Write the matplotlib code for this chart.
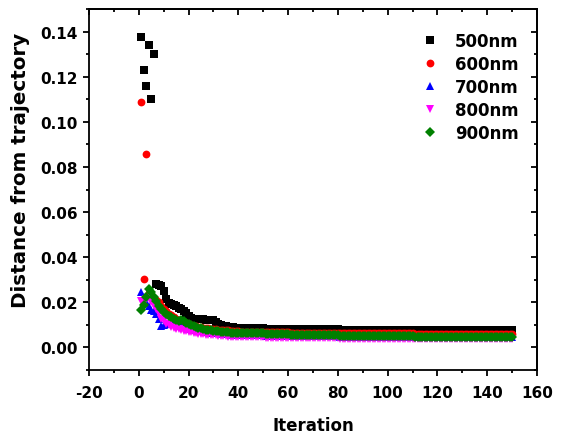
import matplotlib
matplotlib.use("Agg")
import matplotlib.pyplot as plt
from matplotlib.ticker import MultipleLocator, FormatStrFormatter
import numpy as np

plt.rcParams['font.family'] = ['DejaVu Sans']
plt.rcParams['axes.unicode_minus'] = False

labels = ["500nm", "600nm", "700nm", "800nm", "900nm"]

d500 = ([0.1378, 0.1231, 0.1160, 0.1342, 0.1100, 0.1302, 0.0280, 0.0276, 0.0272, 0.0250,
         0.0215, 0.0198, 0.0192, 0.0188, 0.0182, 0.0176, 0.0170, 0.0162, 0.0152, 0.0140,
         0.0130, 0.0126, 0.0125, 0.0125, 0.0124, 0.0124, 0.0123, 0.0123, 0.0122, 0.0120,
         0.0112, 0.0105, 0.0100, 0.0097, 0.0094, 0.0092, 0.0090, 0.0089, 0.0088, 0.0087]
        + [0.0086] * 10 + [0.0083] * 10 + [0.0080] * 20 + [0.0077] * 30 + [0.0075] * 40)

d600 = ([0.1089, 0.0302, 0.0858, 0.0240, 0.0230, 0.0220, 0.0210, 0.0200, 0.0185, 0.0170,
         0.0160, 0.0150, 0.0142, 0.0135, 0.0128, 0.0122, 0.0117, 0.0112, 0.0108, 0.0104,
         0.0100, 0.0097, 0.0094, 0.0092, 0.0090, 0.0088, 0.0086, 0.0084, 0.0082, 0.0081,
         0.0080, 0.0079, 0.0078, 0.0077, 0.0076, 0.0075, 0.0074, 0.0073, 0.0072, 0.0071]
        + [0.0070] * 10 + [0.0068] * 10 + [0.0066] * 20 + [0.0063] * 30 + [0.0061] * 40)

d700 = ([0.0247, 0.0225, 0.0200, 0.0185, 0.0168, 0.0160, 0.0150, 0.0125, 0.0095, 0.0100,
         0.0105, 0.0110, 0.0112, 0.0108, 0.0104, 0.0100, 0.0096, 0.0092, 0.0089, 0.0086,
         0.0083, 0.0080, 0.0078, 0.0076, 0.0074, 0.0072, 0.0070, 0.0068, 0.0066, 0.0065,
         0.0064, 0.0063, 0.0062, 0.0061, 0.0060, 0.0059, 0.0058, 0.0057, 0.0056, 0.0055]
        + [0.0054] * 10 + [0.0052] * 10 + [0.0050] * 20 + [0.0047] * 30 + [0.0045] * 40)

d800 = ([0.0205, 0.0195, 0.0215, 0.0220, 0.0200, 0.0185, 0.0170, 0.0150, 0.0125, 0.0115,
         0.0105, 0.0098, 0.0092, 0.0087, 0.0083, 0.0080, 0.0077, 0.0074, 0.0071, 0.0069,
         0.0067, 0.0065, 0.0063, 0.0061, 0.0060, 0.0058, 0.0057, 0.0056, 0.0055, 0.0054,
         0.0053, 0.0052, 0.0051, 0.0050, 0.0049, 0.0048, 0.0047, 0.0046, 0.0046, 0.0045]
        + [0.0044] * 10 + [0.0042] * 10 + [0.0040] * 20 + [0.0038] * 30 + [0.0036] * 40)

d900 = ([0.0168, 0.0190, 0.0225, 0.0260, 0.0245, 0.0225, 0.0205, 0.0185, 0.0170, 0.0158,
         0.0148, 0.0140, 0.0135, 0.0128, 0.0122, 0.0118, 0.0122, 0.0115, 0.0108, 0.0102,
         0.0098, 0.0094, 0.0090, 0.0087, 0.0084, 0.0081, 0.0079, 0.0077, 0.0075, 0.0073,
         0.0072, 0.0071, 0.0070, 0.0069, 0.0068, 0.0067, 0.0066, 0.0065, 0.0064, 0.0063]
        + [0.0062] * 10 + [0.0058] * 10 + [0.0054] * 20 + [0.0049] * 30 + [0.0045] * 40)

series = [d500, d600, d700, d800, d900]
markers = ['s', 'o', '^', 'v', 'D']
sizes = [5.4, 5.6, 6.2, 6.2, 4.8]
colors = ['black', 'red', 'blue', 'magenta', 'green']

fig = plt.figure(figsize=(5.61, 4.39), dpi=100)
ax = fig.add_axes([0.1586, 0.155, 0.7986, 0.822])

for lab, d, m, s, c in zip(labels, series, markers, sizes, colors):
    x = np.arange(1, len(d) + 1)
    ax.plot(x, d, linestyle='none', marker=m, markersize=s, color=c,
            markeredgewidth=0, label=lab)

ax.set_xlim(-20, 160)
ax.set_ylim(-0.01, 0.15)
ax.xaxis.set_major_locator(MultipleLocator(20))
ax.xaxis.set_minor_locator(MultipleLocator(10))
ax.yaxis.set_major_locator(MultipleLocator(0.02))
ax.yaxis.set_minor_locator(MultipleLocator(0.01))
ax.yaxis.set_major_formatter(FormatStrFormatter('%.2f'))

for sp in ax.spines.values():
    sp.set_linewidth(1.3)

ax.tick_params(which='major', direction='out', length=4.5, width=1.3,
               labelsize=11, top=False, right=False)
ax.tick_params(axis='x', which='major', pad=6)
ax.tick_params(which='minor', direction='out', length=2.5, width=1.3,
               top=False, right=False)
for lab in ax.get_xticklabels() + ax.get_yticklabels():
    lab.set_fontweight('bold')

secx = ax.secondary_xaxis('top')
secx.xaxis.set_major_locator(MultipleLocator(20))
secx.xaxis.set_minor_locator(MultipleLocator(10))
secx.tick_params(which='major', direction='in', length=4.5, width=1.3, labeltop=False)
secx.tick_params(which='minor', direction='in', length=2.5, width=1.3)
secx.spines['top'].set_linewidth(1.3)

secy = ax.secondary_yaxis('right')
secy.yaxis.set_major_locator(MultipleLocator(0.02))
secy.yaxis.set_minor_locator(MultipleLocator(0.01))
secy.tick_params(which='major', direction='in', length=4.5, width=1.3, labelright=False)
secy.tick_params(which='minor', direction='in', length=2.5, width=1.3)
secy.spines['right'].set_linewidth(1.3)

ax.set_xlabel('Iteration', fontsize=12, fontweight='bold', labelpad=12)
ax.set_ylabel('Distance from trajectory', fontsize=14.3, fontweight='bold')
ax.yaxis.set_label_coords(-0.132, 0.557)

leg = ax.legend(loc='upper right', bbox_to_anchor=(0.993, 0.978), frameon=False,
                handlelength=1.0, handletextpad=1.0, labelspacing=0.3,
                prop={'weight': 'bold', 'size': 12})

fig.savefig('out.png', dpi=100)
